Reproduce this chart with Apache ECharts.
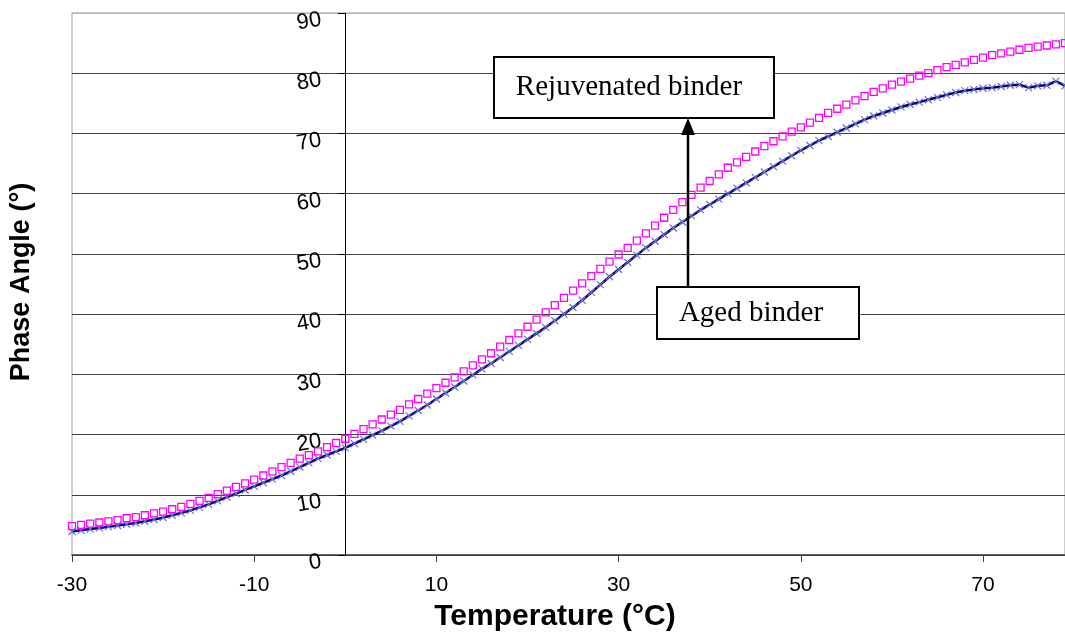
<!DOCTYPE html>
<html>
<head>
<meta charset="utf-8">
<script src="https://cdn.jsdelivr.net/npm/echarts@6/dist/echarts.min.js"></script>
<style>
  html, body { margin: 0; padding: 0; background: #fff; }
  #main { width: 1065px; height: 632px; }
</style>
</head>
<body>
<div id="main"></div>
<script>
// temperatures (°C)
var temps = [
  -30, -29, -28, -27, -26, -25, -24, -23, -22, -21,
  -20, -19, -18, -17, -16, -15, -14, -13, -12, -11,
  -10, -9, -8, -7, -6, -5, -4, -3, -2, -1,
  0, 1, 2, 3, 4, 5, 6, 7, 8, 9,
  10, 11, 12, 13, 14, 15, 16, 17, 18, 19,
  20, 21, 22, 23, 24, 25, 26, 27, 28, 29,
  30, 31, 32, 33, 34, 35, 36, 37, 38, 39,
  40, 41, 42, 43, 44, 45, 46, 47, 48, 49,
  50, 51, 52, 53, 54, 55, 56, 57, 58, 59,
  60, 61, 62, 63, 64, 65, 66, 67, 68, 69,
  70, 71, 72, 73, 74, 75, 76, 77, 78, 79
];
// phase angle, rejuvenated binder
var rejuvenated = [
  4.8, 5.0, 5.2, 5.4, 5.6, 5.8, 6.1, 6.3, 6.6, 6.9,
  7.2, 7.6, 8.0, 8.5, 9.0, 9.5, 10.1, 10.7, 11.3, 11.9,
  12.5, 13.2, 13.9, 14.6, 15.3, 16.0, 16.6, 17.2, 17.9, 18.6,
  19.3, 20.1, 20.9, 21.7, 22.5, 23.3, 24.1, 25.0, 25.9, 26.8,
  27.7, 28.6, 29.5, 30.5, 31.5, 32.5, 33.5, 34.6, 35.7, 36.8,
  37.9, 39.1, 40.3, 41.5, 42.7, 43.9, 45.1, 46.3, 47.5, 48.7,
  49.9, 51.0, 52.2, 53.4, 54.7, 56.0, 57.3, 58.6, 59.8, 61.0,
  62.1, 63.2, 64.3, 65.2, 66.1, 67.0, 67.9, 68.7, 69.5, 70.3,
  71.0, 71.8, 72.6, 73.4, 74.1, 74.8, 75.5, 76.2, 76.9, 77.5,
  78.1, 78.6, 79.1, 79.6, 80.0, 80.5, 81.0, 81.4, 81.8, 82.2,
  82.6, 83.0, 83.3, 83.6, 83.9, 84.2, 84.4, 84.6, 84.8, 85.0
];
// phase angle, aged binder
var aged = [
  3.9, 4.1, 4.3, 4.5, 4.7, 4.9, 5.1, 5.3, 5.6, 5.9,
  6.2, 6.6, 7.0, 7.4, 7.9, 8.4, 9.0, 9.6, 10.2, 10.8,
  11.4, 12.0, 12.6, 13.2, 13.9, 14.6, 15.3, 16.0, 16.6, 17.2,
  17.8, 18.5, 19.2, 19.9, 20.6, 21.4, 22.2, 23.1, 24.0, 24.9,
  25.9, 26.9, 27.9, 28.9, 29.9, 30.9, 31.8, 32.8, 33.8, 34.8,
  35.8, 36.8, 37.8, 38.9, 40.0, 41.1, 42.3, 43.6, 44.9, 46.2,
  47.4, 48.6, 49.8, 51.0, 52.1, 53.2, 54.3, 55.3, 56.3, 57.3,
  58.2, 59.1, 60.0, 60.9, 61.8, 62.7, 63.6, 64.5, 65.4, 66.3,
  67.2, 68.0, 68.8, 69.5, 70.2, 70.9, 71.6, 72.3, 72.9, 73.4,
  73.9, 74.4, 74.8, 75.2, 75.6, 76.0, 76.4, 76.8, 77.1, 77.3,
  77.5, 77.6, 77.8, 78.0, 78.1, 77.6, 77.9, 78.0, 78.7, 77.9
];
var xTicks = [-30, -10, 10, 30, 50, 70];
var yTicks = [0, 10, 20, 30, 40, 50, 60, 70, 80, 90];

function pairs(vals) {
  return temps.map(function (t, i) { return [t, vals[i]]; });
}

var chart = echarts.init(document.getElementById('main'));
var gridColors = yTicks.map(function (v) { return v === 90 ? '#b0b0b0' : '#404040'; });

var option = {
  animation: false,
  backgroundColor: '#fff',
  grid: {
    left: 72, right: 0, top: 13, bottom: 77, outerBoundsMode: 'none',
    show: true, borderColor: '#c0c0c0', borderWidth: 1.5
  },
  xAxis: {
    type: 'value', min: -30, max: 79, interval: 20,
    name: 'Temperature (°C)', nameLocation: 'middle', nameGap: 47,
    nameTextStyle: { fontFamily: 'Liberation Sans', fontWeight: 'bold', fontSize: 30, color: '#000', padding: [0, 27, 0, 0] },
    axisLine: { onZero: false, lineStyle: { color: '#404040', width: 1.5 } },
    axisTick: { length: 7, lineStyle: { color: '#404040' }, customValues: xTicks },
    axisLabel: { fontFamily: 'Liberation Sans', fontSize: 21, color: '#000', margin: 20, customValues: xTicks },
    splitLine: { show: false }
  },
  yAxis: {
    // axis drawn at temperature 0, inside the plot
    type: 'value', min: 0, max: 90, interval: 10, offset: -273,
    axisLine: { show: true, onZero: false, lineStyle: { color: '#000', width: 1 } },
    axisTick: { show: true, length: 7, lineStyle: { color: '#000' } },
    axisLabel: {
      margin: 25, rotate: 10,
      formatter: '{a|{value}}',
      rich: { a: { fontFamily: 'Liberation Sans', fontSize: 22, color: '#000', padding: [13, 0, 0, 0] } }
    },
    splitLine: { lineStyle: { color: gridColors, width: 1.2 } }
  },
  series: [
    {
      name: 'Aged binder', type: 'line', data: pairs(aged),
      symbol: 'path://M0,0L10,10M10,0L0,10', symbolSize: 7,
      itemStyle: { color: 'none', borderColor: '#7070c8', borderWidth: 1.2 },
      lineStyle: { color: '#000080', width: 2.5 },
      z: 2
    },
    {
      name: 'Rejuvenated binder', type: 'line', data: pairs(rejuvenated),
      symbol: 'rect', symbolSize: 7,
      itemStyle: { color: 'none', borderColor: '#ff00ff', borderWidth: 1.3 },
      lineStyle: { width: 0 },
      z: 3
    }
  ],
  graphic: [
    {
      type: 'text', x: 22, y: 282, rotation: Math.PI / 2, z: 100,
      style: { text: 'Phase Angle (°)', font: 'bold 27px "Liberation Sans"', fill: '#000', align: 'center', verticalAlign: 'middle' }
    },
    { type: 'line', z: 100, shape: { x1: 688, y1: 287, x2: 688, y2: 134 }, style: { stroke: '#000', lineWidth: 2.5 } },
    { type: 'polygon', z: 100, shape: { points: [[688, 118], [681, 135], [695, 135]] }, style: { fill: '#000' } },
    { type: 'rect', z: 100, shape: { x: 494, y: 57, width: 280, height: 61 }, style: { fill: '#fff', stroke: '#000', lineWidth: 2 } },
    {
      type: 'text', x: 629, y: 87, z: 101,
      style: { text: 'Rejuvenated binder', font: '29px "Liberation Serif"', fill: '#000', align: 'center', verticalAlign: 'middle' }
    },
    { type: 'rect', z: 100, shape: { x: 657, y: 287, width: 202, height: 52 }, style: { fill: '#fff', stroke: '#000', lineWidth: 2 } },
    {
      type: 'text', x: 751, y: 313, z: 101,
      style: { text: 'Aged binder', font: '29px "Liberation Serif"', fill: '#000', align: 'center', verticalAlign: 'middle' }
    }
  ]
};

chart.setOption(option);
</script>
</body>
</html>
